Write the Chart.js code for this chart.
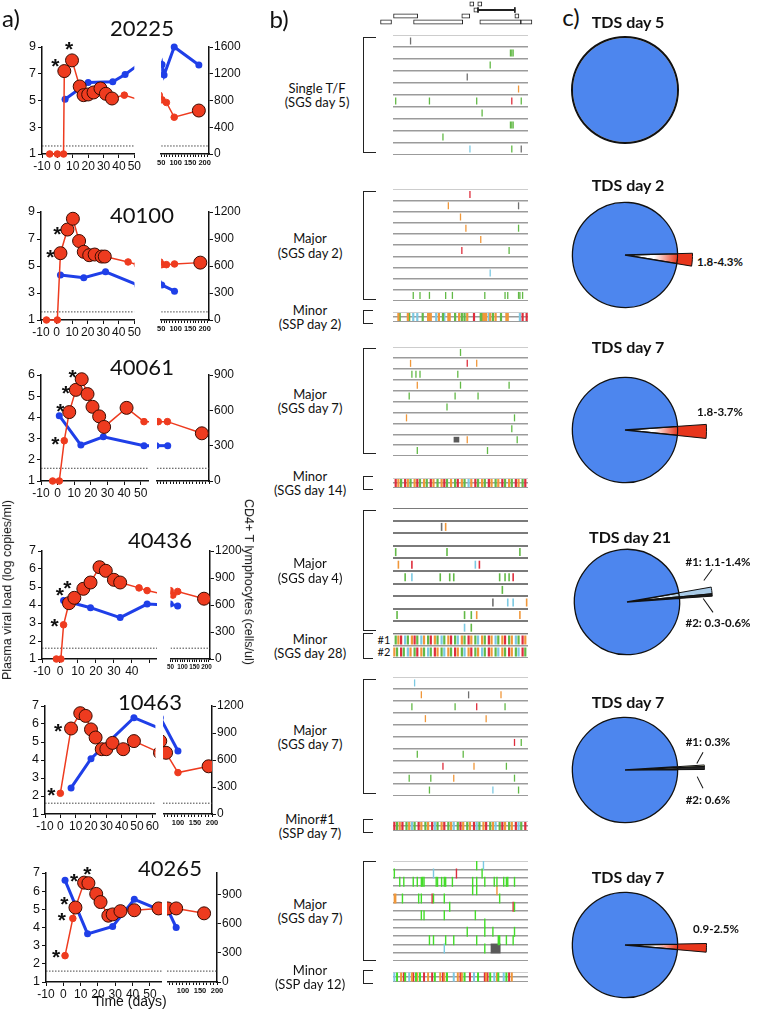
<!DOCTYPE html>
<html>
<head>
<meta charset="utf-8">
<script src="https://cdn.jsdelivr.net/npm/chart.js@4/dist/chart.umd.min.js"></script>
<style>
  body { margin: 0; background: #fff; }
  #page { position: relative; width: 759px; height: 1013px; overflow: hidden; font-family: Lato, "Open Sans", sans-serif; color: #111; }
  #page canvas { position: absolute; }
  .txt { position: absolute; white-space: nowrap; transform: translate(-50%, -50%); text-align: center; line-height: 1.1; }
  .brk { position: absolute; border: 1.6px solid #222; border-right: none; box-sizing: border-box; }
  .lead { position: absolute; height: 1.4px; background: #111; transform-origin: 0 50%; }
</style>
</head>
<body>
<div id="page"></div>
<script>
// ---------- a) viral load (log copies/ml) and CD4 counts ----------
const p1Days = [-5, 0, 4, 4.5, 9.5, 14.5, 17, 20, 23.5, 28, 31.5, 35.5, 43.5, 53, 68, 95, 180];
const p1VL = [1, 1, 1, 7.2, 8.0, 6.05, 5.4, 5.45, 5.6, 5.9, 5.5, 5.15, 5.4, 5.05, 4.85, 3.75, 4.25];
const p1Sampled = [4.5, 9.5, 14.5, 17, 20, 23.5, 28, 31.5, 35.5, 180];
const p1Stars = [4.5, 9.5];
const p1CD4Days = [5, 20, 36, 44, 53, 60, 95, 180];
const p1CD4 = [820, 1070, 1080, 1190, 1340, 1180, 1600, 1330];

const p2Days = [-6.5, 0.5, 2.5, 7, 10.5, 14.5, 17.5, 21, 24.5, 29, 31, 46, 52, 68, 96, 185];
const p2VL = [1, 1, 5.95, 7.7, 8.5, 6.85, 6.05, 5.8, 5.85, 5.7, 5.7, 5.3, 5.1, 5.1, 5.15, 5.25];
const p2Sampled = [2.5, 7, 10.5, 14.5, 17.5, 21, 24.5, 29, 31, 185];
const p2Stars = [2.5, 7];
const p2CD4Days = [2.5, 17.5, 31.5, 52, 96];
const p2CD4 = [500, 470, 535, 390, 320];

const p3Days = [-3, 1, 4, 7, 11, 14.5, 18, 21, 25, 28, 41.5, 52, 59, 87, 193];
const p3VL = [1, 1, 2.9, 4.25, 5.3, 5.8, 5.1, 4.5, 4.05, 3.55, 4.45, 3.8, 3.8, 3.8, 3.25];
const p3Sampled = [7, 11, 14.5, 18, 21, 25, 28, 41.5, 193];
const p3Stars = [4, 7, 11, 14.5];
const p3CD4Days = [1, 14, 27.5, 52, 88];
const p3CD4 = [555, 305, 375, 300, 300];

const p4Days = [-2, 0.5, 2, 5, 8, 13, 17, 22, 25.5, 30, 33.5, 44, 48.5, 60, 80, 190];
const p4VL = [1, 1, 2.9, 4.1, 4.4, 4.9, 5.25, 6.1, 5.9, 5.4, 5.25, 4.95, 4.8, 4.55, 4.75, 4.35];
const p4Sampled = [5, 8, 13, 17, 22, 25.5, 30, 33.5, 190];
const p4Stars = [2, 5, 8];
const p4CD4Days = [2, 17, 33.5, 48.5, 80];
const p4CD4 = [650, 570, 460, 610, 590];

const p5Days = [0, 7, 13, 16.5, 20, 23, 27, 30, 34, 41, 48, 65, 100, 190];
const p5VL = [2.15, 5.75, 6.6, 6.45, 5.7, 5.25, 4.6, 4.6, 4.95, 4.6, 5.05, 4.4, 3.3, 3.65];
const p5Sampled = [7, 13, 16.5, 20, 23, 27, 30, 34, 41, 48, 65, 190];
const p5Stars = [0, 7];
const p5CD4Days = [7, 20, 48, 100];
const p5CD4 = [290, 615, 1070, 700];

const p6Days = [1, 5.5, 7, 12, 14.5, 19, 21.5, 26, 28.5, 33, 41, 55, 80, 162];
const p6VL = [2.45, 4.5, 5.1, 6.47, 6.44, 5.85, 5.4, 4.65, 4.72, 4.9, 4.95, 5.05, 5.05, 4.78];
const p6Sampled = [7, 12, 14.5, 19, 21.5, 26, 28.5, 33, 41, 55, 80, 162];
const p6Stars = [1, 5.5, 7, 12, 14.5];
const p6CD4Days = [1, 14, 28.5, 41, 80];
const p6CD4 = [1045, 495, 570, 850, 560];

const detectionLimit = 1.6;

// ---------- b) highlighter rows (letter = colour, number = % along genome) ----------
const p1Major = ["k13", "g87 g88 g89", "g72", "k55", "o93", "g2 g27 g62 r88 g95", "g66", "g87 g88 g89", "g37", "c57 g88 k95"];
const p2Major = ["r57", "o41 k93", "o50", "o54 g93", "o65", "r51 g86", "", "c72", "", "g15 g20 g27 g39 g44 g68 g83 g85 g93 g94 g96"];
const p2Minor = ["o4 g5 o11 g12 c15 c18 g22 o26 o27 o28 c32 o34 g37 c38 o41 o42 g46 o49 g51 g53 o55 r60 g65 g66 o67 o68 o69 c71 o72 g74 o76 g80 o84 o85 c94 r96 r99"];
const p3Major = ["g50", "o13 r55 o62", "g14 g17 g20 g48", "o18 g50 g86", "g12 g46 g63", "g40", "o10 g90", "g88", "b47 o55 g92", "g18 g70"];
const p3Minor = ["r2 o4 g6 r9 o11 g13 o16 r18 g20 o23 g25 r28 o30 g33 o36 r38 g40 o43 g46 r48 o51 g53 c56 o58 r61 g63 o66 g68 r71 o73 g76 o78 r81 g83 o86 g88 r91 o93 g96 r98"];
const p4Major = ["", "k36 o39", "", "g2 g40 g94", "o4 r14 c61 r64", "g9 c14 g35 g42 g45 g79 g83 g86 r89", "g81", "k74 c85 c89 o99", "g3 g53 g58 o62 o94", "c53 g58"];
const p4Minor = ["g2 o4 r6 c9 g11 o14 r16 g18 c21 o23 g26 r28 o31 g33 c36 g38 o41 r43 g46 c48 o51 g53 r56 o58 g61 c63 o66 g68 r71 o73 c76 g78 o81 r83 g86 o88 c91 g93 r96 o98",
                 "o1 g3 r6 g8 c11 o13 g16 r18 o21 g23 c26 g28 r31 o33 g36 c38 o41 g43 r46 o48 g51 c53 o56 r58 g61 o63 c66 g68 r71 o73 g76 c78 o81 g83 r86 o88 g91 c93 r96 g98"];
const p5Major = ["c16", "o21 k56 o80", "g14 g46 r62 g83", "o24 o69", "", "r90 g95", "g18 g52", "r37 o60 g84", "g12 g28 o45 g90", "g27 c74 g93"];
const p5Minor = ["r1 g3 o5 r7 g10 o12 c14 g16 r19 o21 g24 o26 r29 c31 g33 o36 r38 g41 o43 c45 g48 r50 o52 g55 o57 r60 c62 g64 o67 r69 g72 o74 c76 g79 r81 o83 g86 o88 r91 c93 g95 r98"];
const p6Major = ["g62 c67", "g1 c30 r47 g66", "g5 g8 g15 g18 g21 g22 g23 g32 g33 g36 g38 g39 g44 g59 g62 g68 g75 g77 g82 g84 g85 g90",
                 "g59 g62 o77", "o1 o2 g7 g19 g21 r29 g30 g38 g79", "g42 r89 g90", "g21 g23 g38 g61", "g68", "g55 g68 g74 g90",
                 "g27 g30 g39 g45 g62 g78 g79 g84 g89", "c38 g68 b76", ""];
const p6Minor = ["c1 g3 o6 r8 g9 c12 o14 r15 g17 o18 g20 r23 o26 r29 g31 o35 r37 o38 g40 c45 o48 r50 o51 g53 r57 c60 g63 r68 o69 r70 g72 c75 o77 g78 c82 g84 r86 o88"];

// genome map boxes: row, start %, end %
const genomeRow = ["a", "a", "b", "c", "c", "c", "d", "d", "d", "d"];
const genomeStart = [56.3, 62.2, 59.3, 0, 50.4, 89.6, -9.6, 14.8, 63.7, 94];
const genomeEnd = [59.3, 65.2, 62.2, 17.8, 56.3, 92.6, -1.5, 51.1, 94, 102.2];

// ---------- c) minor variant percentages ----------
const pieTitles = ["TDS day 5", "TDS day 2", "TDS day 7", "TDS day 21", "TDS day 7", "TDS day 7"];
const pieMinorLow = [[], [1.8], [1.8], [1.1, 0.3], [0.3, 0.6], [0.9]];
const pieMinorHigh = [[], [4.3], [3.7], [1.4, 0.6], [0.3, 0.6], [2.5]];

// ---------------------------------------------------------------
Chart.defaults.font.family = '"Liberation Sans", Arial, sans-serif';
Chart.defaults.color = "#111";
Chart.defaults.animation = false;
Chart.defaults.responsive = false;
Chart.defaults.devicePixelRatio = 1;
Chart.defaults.events = [];
Chart.defaults.plugins.legend.display = false;
Chart.defaults.plugins.tooltip.enabled = false;

const page = document.getElementById("page");

function canvasAt(x, y, w, h) {
  const c = document.createElement("canvas");
  c.width = Math.round(w); c.height = Math.round(h);
  c.style.left = Math.round(x) + "px"; c.style.top = Math.round(y) + "px";
  page.appendChild(c);
  return c;
}
function label(html, x, y, css) {
  const d = document.createElement("div");
  d.className = "txt";
  d.innerHTML = html;
  d.style.left = x + "px"; d.style.top = y + "px";
  if (css) d.style.cssText += css;
  page.appendChild(d);
  return d;
}

const RED = "#ee3b1f", RED_EDGE = "#3a0c02", BLUE = "#1f3fe8";

// asterisks next to sequenced time points
const starPlugin = {
  id: "stars",
  afterDatasetsDraw(chart, args, opts) {
    if (!opts.days || !opts.days.length) return;
    const meta = chart.getDatasetMeta(0);
    const pts = chart.data.datasets[0].data;
    const ctx = chart.ctx;
    ctx.save();
    ctx.font = 'bold 21px "Liberation Sans"';
    ctx.fillStyle = "#111"; ctx.textAlign = "center"; ctx.textBaseline = "middle";
    opts.days.forEach((d, i) => {
      const k = pts.findIndex(p => p.x === d);
      if (k < 0) return;
      const el = meta.data[k];
      const [dx, dy] = opts.offsets[i];
      ctx.fillText("*", el.x + dx, el.y + dy + 5);
    });
    ctx.restore();
  }
};

const PANELS = [
  { id: "20225", days: p1Days, vl: p1VL, sampled: p1Sampled, stars: p1Stars, cdDays: p1CD4Days, cd: p1CD4,
    vlMax: 9, cdMax: 1600, cdStep: 400, top: 47, bottom: 154, title: [142, 28],
    L: { min: -10, max: 50, x0: 42, x1: 142, lastLabel: 50 }, R: { min: 50, max: 215, x0: 156, x1: 209, font: 7.5 },
    starOff: [[-9, -9], [-3, -15]] },
  { id: "40100", days: p2Days, vl: p2VL, sampled: p2Sampled, stars: p2Stars, cdDays: p2CD4Days, cd: p2CD4,
    vlMax: 9, cdMax: 1200, cdStep: 300, top: 212, bottom: 320, title: [142, 215],
    L: { min: -10, max: 50, x0: 41, x1: 142, lastLabel: 50 }, R: { min: 50, max: 215, x0: 156, x1: 209, font: 7.5 },
    starOff: [[-10, 0], [-10, 1]] },
  { id: "40061", days: p3Days, vl: p3VL, sampled: p3Sampled, stars: p3Stars, cdDays: p3CD4Days, cd: p3CD4,
    vlMax: 6, cdMax: 900, cdStep: 300, top: 375, bottom: 481, title: [142, 367],
    L: { min: -10, max: 55, x0: 41, x1: 149, lastLabel: 50 }, R: { min: 55, max: 215, x0: 156, x1: 209, font: 7.5 },
    starOff: [[-9, -1], [-9, -5], [-10, -1], [-9, -6]] },
  { id: "40436", days: p4Days, vl: p4VL, sampled: p4Sampled, stars: p4Stars, cdDays: p4CD4Days, cd: p4CD4,
    vlMax: 7, cdMax: 1200, cdStep: 300, top: 551, bottom: 659, title: [160, 540],
    L: { min: -10, max: 54, x0: 42, x1: 157, lastLabel: 40 }, R: { min: 50, max: 215, x0: 166, x1: 210, font: 6.3 },
    starOff: [[-9, -3], [-9, -12], [-7, -14]] },
  { id: "10463", days: p5Days, vl: p5VL, sampled: p5Sampled, stars: p5Stars, cdDays: p5CD4Days, cd: p5CD4,
    vlMax: 7, cdMax: 1200, cdStep: 300, top: 706, bottom: 814, title: [150, 702],
    L: { min: -10, max: 62, x0: 45, x1: 160, lastLabel: 60 }, R: { min: 56, max: 200, x0: 163, x1: 212, font: 7.5 },
    starOff: [[-9, -2], [-13, -1]] },
  { id: "40265", days: p6Days, vl: p6VL, sampled: p6Sampled, stars: p6Stars, cdDays: p6CD4Days, cd: p6CD4,
    vlMax: 7, cdMax: 1120, cdStep: 300, top: 873, bottom: 982, title: [170, 868],
    L: { min: -10, max: 57, x0: 46, x1: 162, lastLabel: 50 }, R: { min: 53, max: 200, x0: 167, x1: 217, font: 7.5 },
    starOff: [[-9, -2], [-11, -2], [-11, -7], [-10, -5], [-1, -13]] }
];

function segmentChart(P, isLeft) {
  const seg = isLeft ? P.L : P.R;
  const AX_L = 30, AX_R = 36, PAD = 12, XH = 18;
  const left = isLeft ? seg.x0 - AX_L : seg.x0;
  const w = seg.x1 - seg.x0 + (isLeft ? AX_L : AX_R);
  const h = P.bottom - P.top + PAD + XH;
  const cv = canvasAt(left, P.top - PAD, w, h);
  const clip = { left: 0, right: 0, top: false, bottom: false };
  const cdTicks = [];
  for (let v = 0; v <= P.cdMax; v += P.cdStep) cdTicks.push(v);
  new Chart(cv, {
    type: "line",
    data: {
      datasets: [
        { data: P.days.map((d, i) => ({ x: d, y: P.vl[i] })), yAxisID: "yL", clip,
          borderColor: RED, borderWidth: 1.5,
          pointRadius: c => P.sampled.includes(c.raw.x) ? 6.5 : 3.3,
          pointBackgroundColor: RED,
          pointBorderColor: c => P.sampled.includes(c.raw.x) ? RED_EDGE : RED,
          pointBorderWidth: 1 },
        { data: P.cdDays.map((d, i) => ({ x: d, y: P.cd[i] })), yAxisID: "yR", clip,
          borderColor: BLUE, borderWidth: 3, pointRadius: 3.5,
          pointBackgroundColor: BLUE, pointBorderColor: BLUE, pointBorderWidth: 0 },
        { data: [{ x: seg.min, y: detectionLimit }, { x: seg.max, y: detectionLimit }], yAxisID: "yL",
          borderColor: "#444", borderWidth: 1, borderDash: [1.5, 1.5], pointRadius: 0 }
      ]
    },
    options: {
      layout: { padding: { top: PAD, left: 0, right: 0, bottom: 0 }, autoPadding: false },
      plugins: { stars: { days: isLeft ? P.stars : [], offsets: P.starOff } },
      scales: {
        x: { type: "linear", min: seg.min, max: seg.max,
             ticks: { stepSize: 10, includeBounds: false, autoSkip: false, maxRotation: 0, padding: 1,
                      font: isLeft ? { size: 12 } : { size: seg.font, weight: "bold" },
                      callback: v => isLeft ? (v <= seg.lastLabel ? String(v) : "") : (v % 50 === 0 ? String(v) : "") },
             grid: { drawOnChartArea: false, color: "#111", tickLength: isLeft ? 4 : 3 },
             border: { color: "#111", width: 1.5 },
             afterFit: s => { s.height = XH; } },
        yL: { position: "left", display: isLeft, min: 1, max: P.vlMax,
              ticks: { stepSize: 1, padding: 2, font: { size: 12.5 } },
              grid: { drawOnChartArea: false, color: "#111", tickLength: 4 },
              border: { color: "#111", width: 1.5 },
              afterFit: s => { s.width = isLeft ? AX_L : 0; } },
        yR: { position: "right", display: !isLeft, min: 0, max: P.cdMax,
              afterBuildTicks: s => { s.ticks = cdTicks.map(v => ({ value: v })); },
              ticks: { padding: 1, font: { size: 12 }, callback: v => String(v) },
              grid: { drawOnChartArea: false, color: "#111", tickLength: 4 },
              border: { color: "#111", width: 1.5 },
              afterFit: s => { s.width = isLeft ? 0 : AX_R; } }
      }
    },
    plugins: [starPlugin]
  });
}

PANELS.forEach(P => {
  segmentChart(P, true);
  segmentChart(P, false);
  label(P.id, P.title[0], P.title[1], "font-size:22px;font-family:Lato;");
});
label("Time (days)", 130, 1002, "font-size:14px;font-family:'Liberation Sans';");
label("Plasma viral load (log copies/ml)", 8, 590, "font-size:12.5px;font-family:'Liberation Sans';transform:translate(-50%,-50%) rotate(-90deg);");
label("CD4+ T lymphocytes (cells/ul)", 248, 582, "font-size:12.5px;font-family:'Liberation Sans';transform:translate(-50%,-50%) rotate(90deg);");
label("a)", 11, 18, "font-size:24px;font-family:Lato;");
label("b)", 279, 19, "font-size:24px;font-family:Lato;");
label("c)", 571, 17, "font-size:24px;font-family:Lato;");

// ---------- b) ----------
const SEQ_X0 = 393, SEQ_X1 = 528;
const MARK = { g: "#62b946", o: "#f0973a", r: "#de2d3c", c: "#7cc9e2", k: "#707070", b: "#5a5a5a" };

function parseRow(s) {
  s = s.trim();
  return s ? s.split(/\s+/).map(t => ({ code: t[0], pos: parseFloat(t.slice(1)) })) : [];
}

function seqChart(G) {
  const n = G.rows.length;
  const cv = canvasAt(SEQ_X0, G.top - G.gap / 2, SEQ_X1 - SEQ_X0, n * G.gap);
  const byCode = {};
  G.rows.forEach((s, i) => parseRow(s).forEach(m => {
    (byCode[m.code] = byCode[m.code] || []).push({ x: m.pos, y: i + 1 });
  }));
  const datasets = Object.keys(byCode).map(code => {
    const col = code === "g" && G.green ? G.green : MARK[code];
    return {
      data: byCode[code], clip: false,
      pointStyle: code === "b" ? "rect" : "line",
      pointRotation: code === "b" ? 0 : 90,
      pointRadius: code === "b" ? G.box : G.tick,
      pointBorderColor: col, pointBackgroundColor: col,
      pointBorderWidth: code === "b" ? 0 : G.w
    };
  });
  new Chart(cv, {
    type: "scatter",
    data: { datasets },
    options: {
      layout: { padding: 0, autoPadding: false },
      scales: {
        x: { type: "linear", display: false, min: 0, max: 100 },
        y: { type: "linear", min: 0.5, max: n + 0.5, reverse: true,
             ticks: { display: false, stepSize: 1, includeBounds: false },
             grid: { color: G.line || "#9b9b9b", lineWidth: G.lineW || 1.4, drawTicks: false },
             border: { display: false },
             afterFit: s => { s.width = 0; } }
      }
    }
  });
  const rowTop = G.top, rowBot = G.top + (n - 1) * G.gap;
  const br = document.createElement("div");
  br.className = "brk";
  const bt = G.minor ? rowTop - 7 : rowTop - 4, bb = G.minor ? rowBot + 7 : rowBot + 4;
  br.style.left = "363px"; br.style.top = bt + "px";
  br.style.width = (G.minor ? 10 : 13) + "px"; br.style.height = (bb - bt) + "px";
  page.appendChild(br);
  label(G.label, G.lx || 310, (rowTop + rowBot) / 2 + (G.ly || 0), "font-size:13px;font-family:Lato;");
}

const SEQ_GROUPS = [
  { rows: p1Major, top: 41, gap: 12, tick: 3.5, w: 1.3, label: "Single T/F<br>(SGS day 5)", lx: 317 },
  { rows: p2Major, top: 195, gap: 11.2, tick: 3.5, w: 1.3, label: "Major<br>(SGS day 2)" },
  { rows: p2Minor, top: 317, gap: 10, tick: 4, w: 2.2, minor: true, label: "Minor<br>(SSP day 2)" },
  { rows: p3Major, top: 352, gap: 10.9, tick: 3.5, w: 1.3, box: 4, label: "Major<br>(SGS day 7)" },
  { rows: p3Minor, top: 483, gap: 10, tick: 4, w: 2.2, minor: true, label: "Minor<br>(SGS day 14)" },
  { rows: p4Major, top: 514, gap: 12.55, tick: 4, w: 1.6, line: "#7a7a7a", lineW: 2, label: "Major<br>(SGS day 4)" },
  { rows: p4Minor, top: 640, gap: 12, tick: 4.5, w: 2.2, minor: true, label: "Minor<br>(SGS day 28)" },
  { rows: p5Major, top: 683, gap: 11.9, tick: 3.5, w: 1.3, label: "Major<br>(SGS day 7)" },
  { rows: p5Minor, top: 826, gap: 10, tick: 4, w: 2.2, minor: true, label: "Minor#1<br>(SSP day 7)" },
  { rows: p6Major, top: 865, gap: 8.36, tick: 5, w: 1.4, box: 7, green: "#44dd2a", label: "Major<br>(SGS day 7)" },
  { rows: p6Minor, top: 977, gap: 10, tick: 4.5, w: 2, minor: true, green: "#44dd2a", label: "Minor<br>(SSP day 12)" }
];
SEQ_GROUPS.forEach(seqChart);
label("#1", 384, 640, "font-size:11px;font-family:Lato;");
label("#2", 384, 652, "font-size:11px;font-family:Lato;");

// genome map
(function () {
  const cv = canvasAt(380, 1, 153, 24);
  const boxes = genomeRow.map((r, i) => ({ y: r, x: [genomeStart[i], genomeEnd[i]] }));
  new Chart(cv, {
    type: "bar",
    data: {
      labels: ["a", "b", "c", "d"],
      datasets: [
        { data: boxes, backgroundColor: "#fff", borderColor: "#222", borderWidth: 1, borderSkipped: false,
          barThickness: 4.5, grouped: false },
        { data: [{ y: "b", x: [62.2, 89.6] }], backgroundColor: "#222", barThickness: 1.2, grouped: false },
        { data: [{ y: "b", x: [62.0, 62.8] }, { y: "b", x: [89.2, 90.0] }], backgroundColor: "#222", barThickness: 5, grouped: false }
      ]
    },
    options: {
      indexAxis: "y",
      layout: { padding: 0, autoPadding: false },
      scales: {
        x: { type: "linear", display: false, min: -10, max: 103 },
        y: { type: "category", display: false }
      }
    }
  });
})();

// ---------- c) ----------
const PIE_R = 53;
const PIE_LAYOUT = [
  { cx: 625, cy: 90, ty: 22, dir: 0, tip: 84 },
  { cx: 625, cy: 255, ty: 185, dir: 4, tip: 68, labels: [[720, 262]] },
  { cx: 625, cy: 430, ty: 347, dir: 1, tip: 82, labels: [[720, 412]] },
  { cx: 627, cy: 602, ty: 537, dir: -7, tip: 86, labels: [[718, 562], [718, 623]], leads: [[704, 580, 712, 569], [703, 598, 713, 612]] },
  { cx: 625, cy: 770, ty: 702, dir: -2, tip: 80, labels: [[708, 742], [708, 800]], leads: [[697, 763, 703, 752], [697, 776, 703, 788]] },
  { cx: 625, cy: 945, ty: 877, dir: 2, tip: 82, labels: [[716, 929]] }
];
const PIE_BLUE = "#4d86ee";
const MINOR_COLORS = [[], ["#e8361c"], ["#e8361c"], ["#a9cbe8", "#1b1b1b"], ["#e6ebb4", "#262626"], ["#e8361c"]];
const CLEAR = "rgba(0,0,0,0)";

function pieChart(i) {
  const L = PIE_LAYOUT[i];
  const lo = pieMinorLow[i], hi = pieMinorHigh[i];
  const mid = lo.map((v, k) => (v + hi[k]) / 2);
  const minorTotal = mid.reduce((a, b) => a + b, 0);
  const cols = MINOR_COLORS[i];
  const nm = mid.length;
  const cv = canvasAt(L.cx - L.tip, L.cy - L.tip, 2 * L.tip, 2 * L.tip);
  const rest = 100 - minorTotal;
  const values = [...mid, rest];
  const innerFill = c => {
    if (c.dataIndex >= nm) return PIE_BLUE;
    const col = cols[c.dataIndex];
    const a = c.chart.chartArea;
    if (!a) return col;
    const x = (a.left + a.right) / 2, y = (a.top + a.bottom) / 2;
    const g = c.chart.ctx.createRadialGradient(x, y, 0, x, y, PIE_R);
    g.addColorStop(0, "#ffffff"); g.addColorStop(0.55, "#ffffff"); g.addColorStop(1, col);
    return g;
  };
  const datasets = [];
  if (nm) {
    datasets.push({ data: values, weight: L.tip - PIE_R,
      backgroundColor: c => c.dataIndex < nm ? cols[c.dataIndex] : CLEAR,
      borderColor: c => c.dataIndex < nm ? "#111" : CLEAR, borderWidth: 1 });
    datasets.push({ data: values, weight: PIE_R, backgroundColor: innerFill, borderColor: "#111", borderWidth: 1.3 });
  } else {
    // whole circle: outline drawn as a thin outer ring
    datasets.push({ data: values, weight: L.tip - PIE_R - 1, backgroundColor: CLEAR, borderWidth: 0 });
    datasets.push({ data: values, weight: 2, backgroundColor: "#111", borderWidth: 0 });
    datasets.push({ data: values, weight: PIE_R - 1, backgroundColor: PIE_BLUE, borderWidth: 0 });
  }
  new Chart(cv, {
    type: "pie",
    data: { datasets },
    options: {
      rotation: L.dir + 90 - 180 * minorTotal / 100,
      layout: { padding: 0 }
    }
  });
  label(pieTitles[i], L.cx + 3, L.ty, "font-size:16px;font-weight:bold;font-family:Lato;");
  (L.labels || []).forEach((p, k) => {
    const range = lo[k] === hi[k] ? lo[k] + "%" : lo[k] + "-" + hi[k] + "%";
    const txt = nm > 1 ? "#" + (k + 1) + ": " + range : range;
    label(txt, p[0], p[1], "font-size:11.5px;font-weight:bold;font-family:Lato;");
  });
  (L.leads || []).forEach(([x1, y1, x2, y2]) => {
    const d = document.createElement("div");
    d.className = "lead";
    const len = Math.hypot(x2 - x1, y2 - y1);
    d.style.left = x1 + "px"; d.style.top = y1 + "px"; d.style.width = len + "px";
    d.style.transform = "rotate(" + Math.atan2(y2 - y1, x2 - x1) + "rad)";
    page.appendChild(d);
  });
}
pieTitles.forEach((t, i) => pieChart(i));
</script>
</body>
</html>
